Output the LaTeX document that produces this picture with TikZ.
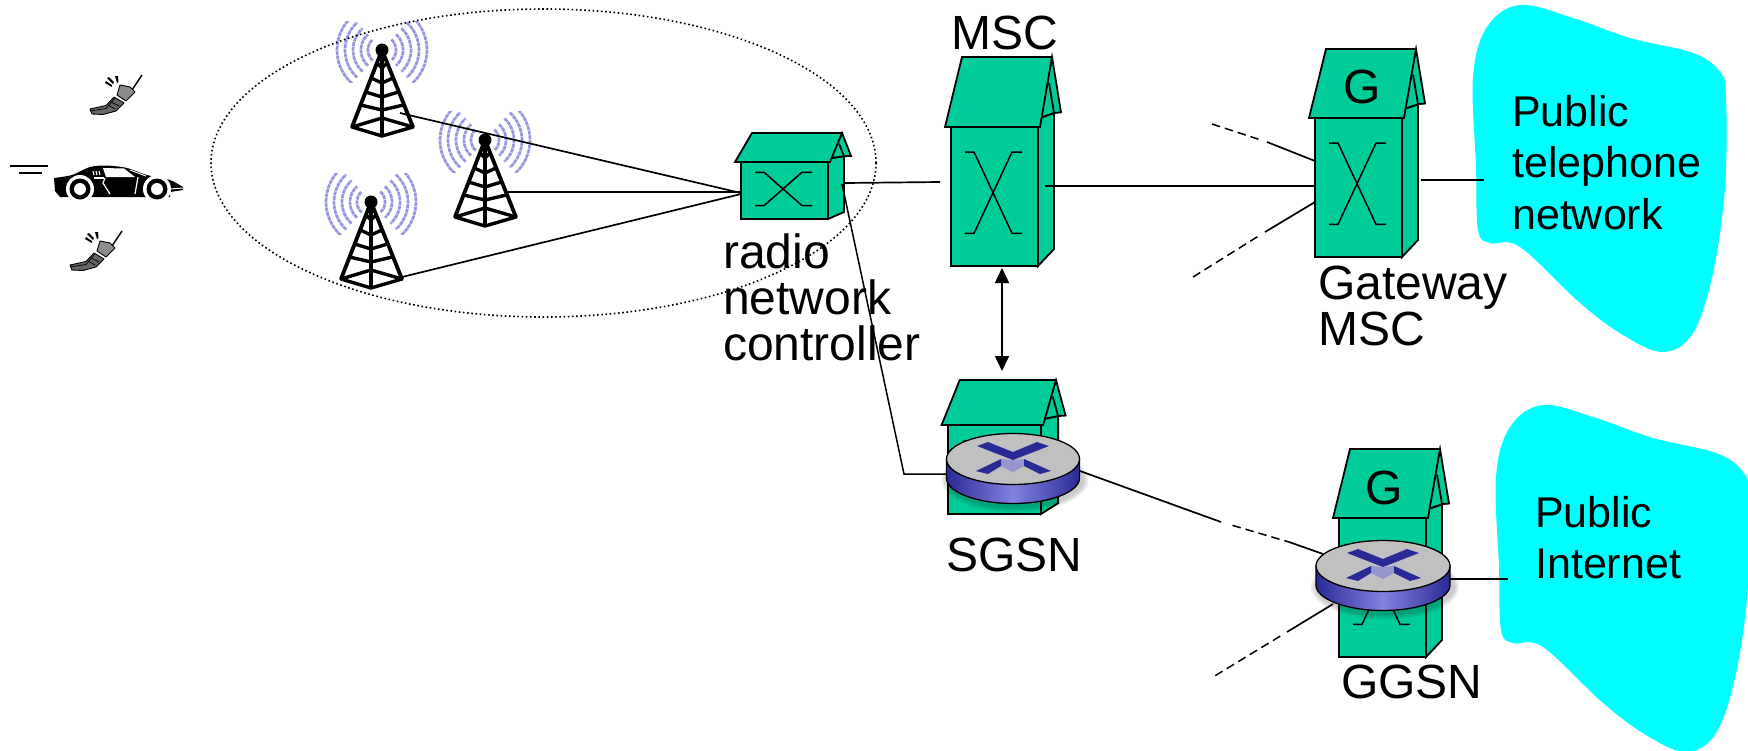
\documentclass[tikz,border=0pt]{standalone}
\usepackage{fontspec}
\setmainfont{Liberation Sans}
\usetikzlibrary{arrows.meta,calc}
\definecolor{housegreen}{RGB}{0,204,153}
\definecolor{cloudcyan}{RGB}{0,255,255}
\definecolor{rdark}{RGB}{42,42,150}
\definecolor{rlight}{RGB}{130,130,225}
\definecolor{rtop}{RGB}{192,192,192}
\definecolor{rmid}{RGB}{150,150,205}
\definecolor{wave}{RGB}{150,150,225}
\tikzset{
  hline/.style={draw=black,line width=1.8pt,line join=miter},
  hfill/.style={hline,fill=housegreen},
  link/.style={draw=black,line width=1.7pt},
  dashlink/.style={draw=black,line width=1.5pt,dash pattern=on 8.5pt off 5pt},
  lab/.style={inner sep=0pt,anchor=base west,align=left},
  lbig/.style={lab,font=\fontsize{48}{46}\selectfont},
  lpub/.style={lab,font=\fontsize{43}{51.5}\selectfont},
}
\newcommand{\housebox}[4]{% L, roof top y, body top y, bottom y
  \pgfmathsetmacro{\hh}{#4-#3}
  \pgfmathsetmacro{\rr}{#3-#2}
  % side wall
  \draw[hfill] ({#1+87},{#3}) -- ({#1+89},{#2+0.87*\rr}) -- ({#1+103},{#2+0.8*\rr}) -- ({#1+103},{#4-0.122*\hh}) -- ({#1+87},{#4}) -- cycle;
  % back gable
  \draw[hfill] ({#1+101},{#2}) -- ({#1+110},{#2+0.79*\rr}) -- ({#1+103},{#2+0.8*\rr}) -- ({#1+89},{#2+0.87*\rr}) -- cycle;
  \draw[hline] ({#1+98},{#2+0.37*\rr}) -- ({#1+103},{#2+0.8*\rr});
  % front
  \draw[hfill] (#1,#3) rectangle ({#1+87},#4);
  \draw[hfill] ({#1-6},#3) -- ({#1+11},#2) -- ({#1+101},#2) -- ({#1+89},#3) -- cycle;
  % crossing
  \draw[draw=black,line width=1.5pt] ({#1+14},{#3+0.18*\hh}) -- ({#1+23},{#3+0.18*\hh}) -- ({#1+61},{#4-0.235*\hh}) -- ({#1+71},{#4-0.235*\hh});
  \draw[draw=black,line width=1.5pt] ({#1+14},{#4-0.235*\hh}) -- ({#1+23},{#4-0.235*\hh}) -- ({#1+61},{#3+0.18*\hh}) -- ({#1+71},{#3+0.18*\hh});
}
\newcommand{\routerdisc}[3]{% cx, cy, rx
  \begin{scope}[shift={(#1,#2)}]
    \foreach \s in {7,5,3}{
      \fill[black,opacity=0.07] (2,{19+2}) ellipse [x radius={#3+\s pt},y radius={25.5pt+\s pt}];
    }
    \draw[line width=1.3pt,left color=rdark,right color=rdark,middle color=rlight]
      (-#3,0) -- (-#3,19) .. controls (-#3,33) and ({-0.55*#3},44.5) .. (0,44.5)
      .. controls ({0.55*#3},44.5) and (#3,33) .. (#3,19) -- (#3,0) -- cycle;
    \draw[line width=1.3pt,fill=rtop] (0,0) ellipse [x radius=#3pt,y radius=25.5pt];
    \fill[rmid] (-12,0) -- (0,1) -- (11,0) -- (11,7) -- (0,13) -- (-12,7) -- cycle;
    \fill[rdark] (-36,-13) -- (-25,-17) -- (0,-7) -- (24,-17) -- (36,-13) -- (0,1) -- cycle;
    \fill[rdark] (-37,12) -- (-12,0) -- (-12,7) -- (-25,15) -- cycle;
    \fill[rdark] (11,0) -- (38,12) -- (27,15) -- (11,7) -- cycle;
  \end{scope}
}
\newcommand{\towerant}[3]{% name, x, y of apex
  \coordinate (#1) at (#2,#3);
  \begin{scope}[shift={(#2,#3)}]
    \begin{scope}
      \clip (-47,-29) rectangle (47,32);
      \foreach \r in {14,21,29,37,45}{
        \draw[wave,line width=2.7pt,dash pattern=on 4pt off 0.7pt] plot[domain=-48:48,samples=17] ({\r*cos(\x)},{\r*sin(\x)});
        \draw[wave,line width=2.7pt,dash pattern=on 4pt off 0.7pt] plot[domain=132:228,samples=17] ({\r*cos(\x)},{\r*sin(\x)});
      }
    \end{scope}
    \draw[black,line width=3.8pt,line join=round] (-30,77) -- (0,0) -- (31,77);
    \draw[black,line width=3.4pt] (0,0) -- (0,86);
    \draw[black,line width=3.4pt,line join=round] (-30,77) -- (0,86) -- (31,77) -- (0,68) -- cycle;
    \foreach \q in {60,47,33,18}{
      \draw[black,line width=3.4pt] ({-0.39*(\q-5)},{\q-5}) -- (0,\q) -- ({0.39*(\q-5)},{\q-5});
    }
    \fill[black] (0,0) circle [radius=6.5pt];
  \end{scope}
}
\newcommand{\phoneicon}[2]{% dx, dy
  \begin{scope}[shift={(#1,#2)}]
    \draw[black,line width=1.5pt] (142,75) -- (132,90);
    \fill[black] (105,83) -- (112,87) -- (112,85) -- (106,81) -- cycle;
    \fill[black] (107,78) -- (113,84) -- (114,82) -- (109,77) -- cycle;
    \fill[black] (115,76) -- (117,83) -- (118.5,82) -- (118,76) -- cycle;
    \draw[black,line width=0.9pt,line join=round,fill=black!45] (120,85) -- (130,87) -- (135,92) -- (126,101) -- (117,95) -- cycle;
    \draw[black,line width=0.9pt,line join=round,fill=black!60] (114,97) -- (124,103) -- (116,111) -- (103,114.5) -- (92,114) -- (90,109) -- (106,105.5) -- cycle;
    \draw[black,line width=0.7pt] (90,111) -- (106,108.5) -- (115,98);
    \draw[black,line width=0.7pt] (111,102) -- (119,106) (108,105) -- (115,109);
  \end{scope}
}
\begin{document}
\begin{tikzpicture}[x=1pt,y=-1pt]
\useasboundingbox (0,0) rectangle (1748,750);
\fill[white] (0,0) rectangle (1748,750);
\clip (0,0) rectangle (1748,750);

% clouds
\foreach \dx/\dy in {0/0,23/400}{
  \fill[cloudcyan,shift={(\dx,\dy)}] plot[smooth cycle,tension=0.6] coordinates {
    (1520,5) (1573,18) (1630,38) (1693,53) (1720,72) (1726,97) (1725,187) (1713,273)
    (1693,333) (1663,352) (1623,335) (1580,303) (1520,247) (1490,243) (1478,230)
    (1476,167) (1473,77) (1487,27)};
}

% car
\draw[black,line width=1.8pt] (10,166) -- (48,166) (19,173) -- (42,173);
\fill[black] plot[smooth,tension=0.45] coordinates {(54,178) (72,175) (90,167) (107,165.5) (127,168) (147,175) (170,180) (183,187)}
  -- (183,190) -- (170,192) -- (170,197) -- (60,197) -- (55,191) -- cycle;
\fill[white] (103,168) -- (124,168.5) -- (135,177) -- (106,177) -- cycle;
\draw[white,line width=1pt] (130,170) -- (146,176);
\draw[white,line width=1pt] (170,189) -- (183,188);
\draw[white,line width=1.2pt] (105,178) -- (103,183) -- (110,194);
\draw[white,line width=1.2pt] (138,177) -- (135,194);
\draw[white,line width=1.2pt] (94,178) -- (104,178);
\foreach \g in {93,96,99}{\draw[white,line width=1.1pt] (\g,171) -- (\g+1,175);}
\foreach \w in {80,157}{
  \fill[white] (\w,189) circle [radius=14pt];
  \fill[black] (\w,189) circle [radius=10.5pt];
  \fill[white] (\w,189) circle [radius=6pt];
}
% phones
\phoneicon{0}{0}
\phoneicon{-20}{156}

% towers
\towerant{t1}{382}{50}
\towerant{t2}{485}{140}
\towerant{t3}{371}{202}

% houses
\housebox{741}{133}{162}{219}
\housebox{951}{57}{127}{266}
\housebox{1315}{49}{118}{257}
\begin{scope}[shift={(948,0)},xscale=1.069]
  \housebox{0}{380}{425}{514}
\end{scope}
\housebox{1339}{449}{518}{657}

% connector anchors
\coordinate (t1out) at (400,113);
\coordinate (t2out) at (508,192);
\coordinate (t3out) at (402,277);
\coordinate (rncw1) at (741,193);
\coordinate (rncw2) at (741,192);
\coordinate (rncw3) at (741,194);
\coordinate (rnce) at (845,183);
\coordinate (rncs) at (842,184);
\coordinate (mscw) at (940,182);
\coordinate (msce) at (1045,186);
\coordinate (gmscw) at (1314,186);
\coordinate (msc-s) at (1002,268);
\coordinate (sgsn-n) at (1002,371);
\coordinate (bend) at (904,474);
\coordinate (sgsnw) at (946,474);
\coordinate (sgsne) at (1080,471);
\coordinate (ggsnnw) at (1323,554);
\coordinate (ggsnsw) at (1333,604);
\coordinate (ggsne) at (1450,579);
\coordinate (inet) at (1508,579);
\coordinate (gmsce) at (1421,180);
\coordinate (pstn) at (1484,180);

% labels
\node[lbig] (lmsc) at (951,49) {MSC};
\node[lab,font=\fontsize{48}{46}\selectfont] (lgw) at (1343,103) {G};
\node[lab,font=\fontsize{48}{46}\selectfont] (lgg) at (1365,504) {G};
\node[lbig,anchor=north west] (lrnc) at (723,234) {radio\\network\\controller};
\node[lbig,anchor=north west] (lgate) at (1318,266) {Gateway\\MSC};
\node[lpub,anchor=north west] (lpstn) at (1512,95) {Public\\telephone\\network};
\node[lpub,anchor=north west] (linet) at (1535,496) {Public\\Internet};
\node[lab,font=\fontsize{48}{46}\selectfont] (lsgsn) at (946,571) {SGSN};
\node[lab,font=\fontsize{48}{46}\selectfont] (lggsn) at (1341,698) {GGSN};

% radio network links
\draw[link] (t1out) -- (rncw1);
\draw[link] (t2out) -- (rncw2);
\draw[link] (t3out) -- (rncw3);
\draw[link] (rnce) -- (mscw);
\draw[link] (msce) -- (gmscw);
\draw[link,line width=1.5pt] (rncs) -- (bend) -- (sgsnw);
\draw[black,line width=1.6pt,{Triangle[width=14pt,length=15pt]}-{Triangle[width=14pt,length=15pt]}] (msc-s) -- (sgsn-n);
\draw[link] (gmsce) -- (pstn);
\draw[link] (ggsne) -- (inet);

% gateway stubs
\coordinate (gu1) at (1315,161);
\coordinate (gu2) at (1267,142);
\coordinate (gu3) at (1212,124);
\coordinate (gl1) at (1315,202);
\coordinate (gl2) at (1265,232);
\coordinate (gl3) at (1193,277);
\draw[link] (gu1) -- (gu2);
\draw[dashlink] (gu3) -- ($(gu2)!9pt!(gu3)$);
\draw[link] (gl1) -- (gl2);
\draw[dashlink] (gl3) -- ($(gl2)!9pt!(gl3)$);

% routers
\routerdisc{1013}{459}{66.5}
\routerdisc{1383}{566}{67}

% data links
\coordinate (ds1) at (1221,522);
\coordinate (ds2) at (1289,542);
\draw[link] (sgsne) -- (ds1);
\draw[dashlink] ($(ds1)!12pt!(ds2)$) -- (ds2);
\draw[link] (ds2) -- (ggsnnw);
\coordinate (dl1) at (1287,632);
\coordinate (dl2) at (1213,677);
\draw[link] (ggsnsw) -- (dl1);
\draw[dashlink] ($(dl1)!8pt!(dl2)$) -- (dl2);

% dotted ellipse
\draw[black,line width=1.6pt,dash pattern=on 1.6pt off 2.6pt] (543.5,163) ellipse [x radius=332.5pt,y radius=154pt];
\end{tikzpicture}
\end{document}
